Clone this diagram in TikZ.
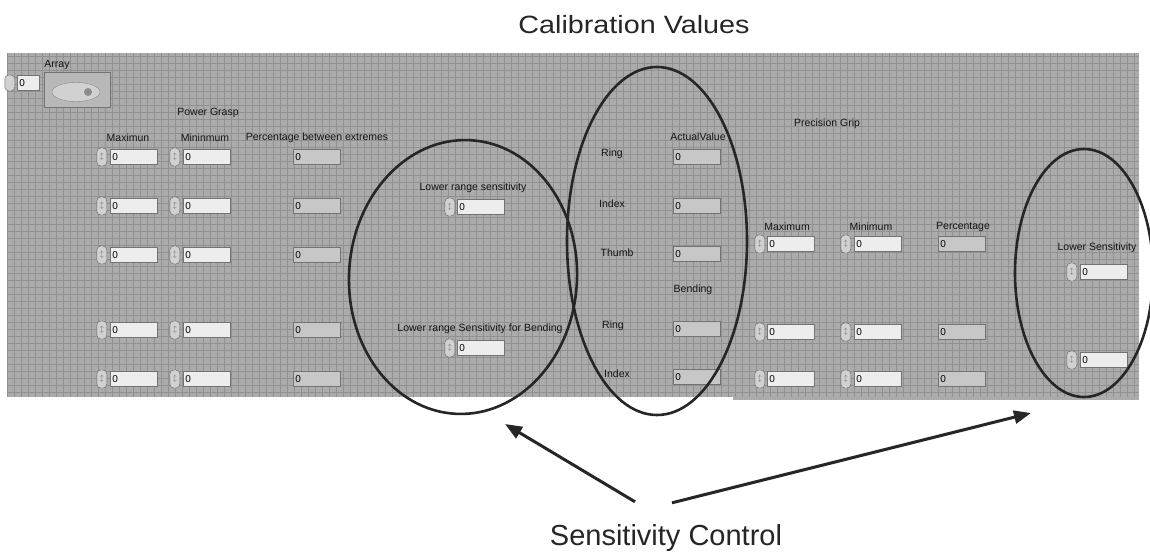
\documentclass[tikz,border=0pt]{standalone}
\usepackage{fontspec}
\setmainfont{Liberation Sans}
\usetikzlibrary{shapes.geometric,arrows.meta}

\definecolor{panelgray}{gray}{0.67}
\definecolor{gridgray}{gray}{0.57}
\definecolor{boxgray}{gray}{0.93}
\definecolor{outgray}{gray}{0.78}

\begin{document}
\begin{tikzpicture}[x=1pt, y=-1pt,
  lbl/.style={inner sep=0pt, font=\fontsize{10.5}{12}\selectfont, text=black!92},
  title/.style={inner sep=0pt, anchor=base, font=\fontsize{29}{34}\selectfont, text=black!85},
  numbox/.style={rectangle, anchor=west, fill=boxgray, draw=black!55, line width=0.6pt,
    minimum height=15pt, text width=43pt, inner sep=2pt, font=\fontsize{10}{11}\selectfont},
  outbox/.style={numbox, fill=outgray},
  incr/.style={rectangle, rounded corners=4pt, anchor=east, fill=black!18, draw=black!60,
    minimum width=10pt, minimum height=18pt, inner sep=0pt, text=black!60,
    font=\fontsize{7}{7}\selectfont},
  circled/.style={ellipse, draw=black!85, line width=2.6pt, inner sep=0pt},
  pointer/.style={draw=black!85, line width=3pt, -{Triangle[length=17pt,width=13pt]}}
]

  \useasboundingbox (0,0) rectangle (1150,557);
  \fill[white] (0,0) rectangle (1150,557);

  \fill[panelgray] (7,53) rectangle (1139,397);
  \fill[panelgray] (733,390) rectangle (1139,400);
  \draw[gridgray, line width=0.4pt, step=7pt] (7,397) grid (1139,53);

  \node[lbl] (arraylbl) at (57,65) {Array};
  \node[incr, minimum height=16pt] (arrayinc) at (15,83) {};
  \node[numbox, text width=18pt] (arrayidx) at (17,83) {0};
  \node[rectangle, anchor=north west, draw=black!55, fill=black!28,
    minimum width=66pt, minimum height=35pt] (arrayframe) at (44,72) {};
  \node[ellipse, fill=black!18, draw=black!45, minimum width=48pt, minimum height=19pt] (arrayled) at (76,92) {};
  \node[circle, fill=black!45, minimum size=8pt, inner sep=0pt] (arraydot) at (88,92) {};

  \node[lbl] (pglbl) at (208,113) {Power Grasp};
  \node[lbl] (pgmaxlbl) at (128,138) {Maximun};
  \node[lbl] (pgminlbl) at (205,138) {Mininmum};
  \node[lbl] (pgpctlbl) at (317,138) {Percentage between extremes};
  \foreach \r/\y in {1/157,2/206,3/255,4/330,5/379} {
    \node[incr] (pgmaxinc\r) at (107,\y) {$\updownarrow$};
    \node[numbox] (pgmax\r) at (110,\y) {0};
    \node[incr] (pgmininc\r) at (180,\y) {$\updownarrow$};
    \node[numbox] (pgmin\r) at (183,\y) {0};
    \node[outbox] (pgpct\r) at (293,\y) {0};
  }

  \node[lbl] (lowlbl) at (473,188) {Lower range sensitivity};
  \node[incr] (lowinc) at (455,207) {$\updownarrow$};
  \node[numbox] (low) at (457,207) {0};
  \node[lbl] (bendlbl) at (480,329) {Lower range Sensitivity for Bending};
  \node[incr] (bendinc) at (455,348) {$\updownarrow$};
  \node[numbox] (bend) at (457,348) {0};

  \node[lbl] (actlbl) at (698,137) {ActualValue};
  \node[lbl] (ringlbl) at (612,154) {Ring};
  \node[outbox] (ring) at (673,157) {0};
  \node[lbl] (indexlbl) at (612,204) {Index};
  \node[outbox] (index) at (673,206) {0};
  \node[lbl] (thumblbl) at (617,253) {Thumb};
  \node[outbox] (thumb) at (673,254) {0};
  \node[lbl] (bendinglbl) at (693,290) {Bending};
  \node[lbl] (bringlbl) at (613,326) {Ring};
  \node[outbox] (bring) at (673,329) {0};
  \node[lbl] (bindexlbl) at (617,374) {Index};
  \node[outbox] (bindex) at (673,377) {0};

  \node[lbl] (prlbl) at (827,124) {Precision Grip};
  \node[lbl] (prmaxlbl) at (787,227) {Maximum};
  \node[lbl] (prminlbl) at (871,227) {Minimum};
  \node[lbl] (prpctlbl) at (963,227) {Percentage};
  \foreach \r/\y in {1/244,2/332,3/379} {
    \node[incr] (prmaxinc\r) at (765,\y) {$\updownarrow$};
    \node[numbox] (prmax\r) at (767,\y) {0};
    \node[incr] (prmininc\r) at (851,\y) {$\updownarrow$};
    \node[numbox] (prmin\r) at (854,\y) {0};
    \node[outbox] (prpct\r) at (938,\y) {0};
  }

  \node[lbl] (lsenslbl) at (1097,248) {Lower Sensitivity};
  \node[incr] (lsensinc1) at (1077,272) {$\updownarrow$};
  \node[numbox] (lsens1) at (1080,272) {0};
  \node[incr] (lsensinc2) at (1077,360) {$\updownarrow$};
  \node[numbox] (lsens2) at (1080,360) {0};

  \node[circled, minimum width=228pt, minimum height=274pt, rotate=-3] (lowring) at (463,277) {};
  \node[circled, minimum width=180pt, minimum height=348pt] (fingerring) at (657,241) {};
  \node[circled, minimum width=138pt, minimum height=248pt] (precring) at (1084,273) {};

  \node[title, font=\fontsize{25}{30}\selectfont, xscale=1.15] (calib) at (634,33) {Calibration Values};
  \node[title] (sens) at (666,545) {Sensitivity Control};

  \coordinate (tiplow) at (505,424);
  \coordinate (tipprec) at (1031,413);
  \draw[pointer] ([xshift=-31pt,yshift=22pt]sens.north) -- (tiplow);
  \draw[pointer] ([xshift=6pt,yshift=21pt]sens.north) -- (tipprec);

\end{tikzpicture}
\end{document}
